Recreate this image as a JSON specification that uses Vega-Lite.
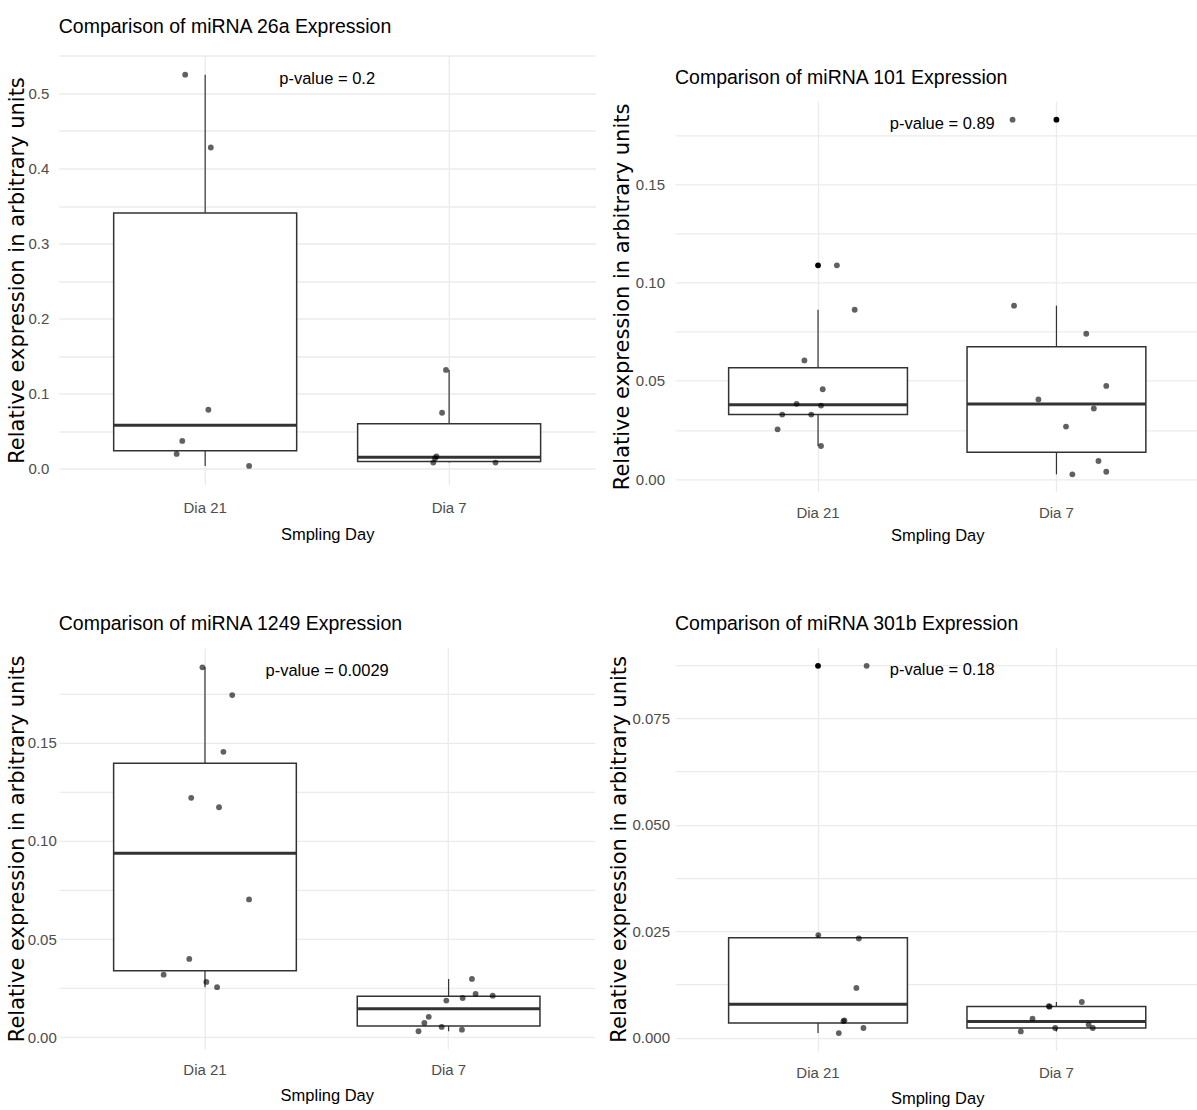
{
  "$schema": "https://vega.github.io/schema/vega-lite/v6.json",
  "padding": {"left": 5.8, "top": 16.5, "right": 0, "bottom": 0},
  "background": "white",
  "datasets": {
    "p1": [
      {"day": "Dia 21", "value": 0.525, "jitter": -0.082},
      {"day": "Dia 21", "value": 0.428, "jitter": 0.023},
      {"day": "Dia 21", "value": 0.0787, "jitter": 0.013},
      {"day": "Dia 21", "value": 0.0372, "jitter": -0.094},
      {"day": "Dia 21", "value": 0.0199, "jitter": -0.117},
      {"day": "Dia 21", "value": 0.004, "jitter": 0.18},
      {"day": "Dia 7", "value": 0.1318, "jitter": -0.013},
      {"day": "Dia 7", "value": 0.0748, "jitter": -0.029},
      {"day": "Dia 7", "value": 0.0166, "jitter": -0.052},
      {"day": "Dia 7", "value": 0.0142, "jitter": -0.058},
      {"day": "Dia 7", "value": 0.0084, "jitter": -0.065},
      {"day": "Dia 7", "value": 0.0084, "jitter": 0.19}
    ],
    "p2": [
      {"day": "Dia 21", "value": 0.1088, "jitter": 0.068},
      {"day": "Dia 21", "value": 0.0862, "jitter": 0.141},
      {"day": "Dia 21", "value": 0.0604, "jitter": -0.065},
      {"day": "Dia 21", "value": 0.0457, "jitter": 0.01},
      {"day": "Dia 21", "value": 0.0383, "jitter": -0.097},
      {"day": "Dia 21", "value": 0.0374, "jitter": 0.003},
      {"day": "Dia 21", "value": 0.0328, "jitter": -0.156},
      {"day": "Dia 21", "value": 0.0328, "jitter": -0.037},
      {"day": "Dia 21", "value": 0.0253, "jitter": -0.175},
      {"day": "Dia 21", "value": 0.0168, "jitter": 0.003},
      {"day": "Dia 7", "value": 0.183, "jitter": -0.189},
      {"day": "Dia 7", "value": 0.0883, "jitter": -0.183},
      {"day": "Dia 7", "value": 0.074, "jitter": 0.113},
      {"day": "Dia 7", "value": 0.0474, "jitter": 0.195},
      {"day": "Dia 7", "value": 0.0405, "jitter": -0.083},
      {"day": "Dia 7", "value": 0.0359, "jitter": 0.144},
      {"day": "Dia 7", "value": 0.0267, "jitter": 0.03},
      {"day": "Dia 7", "value": 0.0092, "jitter": 0.163},
      {"day": "Dia 7", "value": 0.0024, "jitter": 0.056},
      {"day": "Dia 7", "value": 0.0037, "jitter": 0.195}
    ],
    "p3": [
      {"day": "Dia 21", "value": 0.1883, "jitter": -0.011},
      {"day": "Dia 21", "value": 0.1742, "jitter": 0.111},
      {"day": "Dia 21", "value": 0.1453, "jitter": 0.075},
      {"day": "Dia 21", "value": 0.1219, "jitter": -0.057},
      {"day": "Dia 21", "value": 0.1171, "jitter": 0.057},
      {"day": "Dia 21", "value": 0.0702, "jitter": 0.18},
      {"day": "Dia 21", "value": 0.0399, "jitter": -0.065},
      {"day": "Dia 21", "value": 0.0319, "jitter": -0.17},
      {"day": "Dia 21", "value": 0.0282, "jitter": 0.005},
      {"day": "Dia 21", "value": 0.0255, "jitter": 0.049},
      {"day": "Dia 7", "value": 0.0297, "jitter": 0.095},
      {"day": "Dia 7", "value": 0.0221, "jitter": 0.11},
      {"day": "Dia 7", "value": 0.0212, "jitter": 0.18},
      {"day": "Dia 7", "value": 0.02, "jitter": 0.057},
      {"day": "Dia 7", "value": 0.0187, "jitter": -0.01},
      {"day": "Dia 7", "value": 0.0104, "jitter": -0.082},
      {"day": "Dia 7", "value": 0.0073, "jitter": -0.1},
      {"day": "Dia 7", "value": 0.0053, "jitter": -0.029},
      {"day": "Dia 7", "value": 0.0039, "jitter": 0.054},
      {"day": "Dia 7", "value": 0.0031, "jitter": -0.124}
    ],
    "p4": [
      {"day": "Dia 21", "value": 0.0873, "jitter": 0.19},
      {"day": "Dia 21", "value": 0.0241, "jitter": -0.008},
      {"day": "Dia 21", "value": 0.0233, "jitter": 0.158},
      {"day": "Dia 21", "value": 0.0117, "jitter": 0.148},
      {"day": "Dia 21", "value": 0.0041, "jitter": 0.099},
      {"day": "Dia 21", "value": 0.0039, "jitter": 0.095},
      {"day": "Dia 21", "value": 0.0023, "jitter": 0.177},
      {"day": "Dia 21", "value": 0.0011, "jitter": 0.076},
      {"day": "Dia 7", "value": 0.0084, "jitter": 0.095},
      {"day": "Dia 7", "value": 0.0074, "jitter": -0.04},
      {"day": "Dia 7", "value": 0.0073, "jitter": -0.037},
      {"day": "Dia 7", "value": 0.0045, "jitter": -0.107},
      {"day": "Dia 7", "value": 0.0031, "jitter": 0.123},
      {"day": "Dia 7", "value": 0.0023, "jitter": 0.14},
      {"day": "Dia 7", "value": 0.0023, "jitter": -0.014},
      {"day": "Dia 7", "value": 0.0015, "jitter": -0.155}
    ]
  },
  "hconcat": [
    {
      "spacing": 70.4,
      "vconcat": [
        {
          "width": 536.7,
          "height": 429,
          "title": {"text": "Comparison of miRNA 26a Expression", "offset": 11.5},
          "data": {"name": "p1"},
          "encoding": {
            "x": {"field": "day", "type": "nominal", "sort": ["Dia 21", "Dia 7"], "title": "Smpling Day",
                  "scale": {"paddingInner": 0.2, "paddingOuter": 0.2},
                  "axis": {"labelPadding": 16.3, "titlePadding": 10.4}},
            "y": {"field": "value", "type": "quantitative", "title": "Relative expression in arbitrary units",
                  "scale": {"domain": [-0.0208, 0.5505], "nice": false, "zero": false},
                  "axis": {"values": [0, 0.05, 0.1, 0.15, 0.2, 0.25, 0.3, 0.35, 0.4, 0.45, 0.5, 0.55],
                           "labelExpr": "round(datum.value*100) % 10 == 0 ? format(datum.value, '.1f') : ''",
                           "labelPadding": 10, "titleX": -41}}
          },
          "layer": [
            {"mark": {"type": "boxplot", "extent": 1.5, "size": 183,
                      "box": {"fill": "white", "stroke": "#333333", "strokeWidth": 1.5},
                      "median": {"color": "#333333", "thickness": 3, "opacity": 1},
                      "rule": {"color": "#333333", "strokeWidth": 1.2},
                      "outliers": {"color": "black", "filled": true, "opacity": 1, "size": 34, "strokeWidth": 0}}},
            {"mark": {"type": "circle", "size": 34, "color": "black", "opacity": 0.62},
             "encoding": {"xOffset": {"field": "jitter", "type": "quantitative", "scale": {"domain": [-0.4, 0.4], "range": [0, 195.2]}}}},
            {"data": {"values": [{"label": "p-value = 0.2", "value": 0.525}]},
             "mark": {"type": "text", "fontSize": 16.5, "font": "Liberation Sans", "align": "center", "baseline": "middle", "dy": 4, "color": "black"},
             "encoding": {"x": {"datum": "Dia 21", "type": "nominal", "title": "Smpling Day"},
                          "xOffset": {"datum": 0.5, "type": "quantitative", "scale": {"domain": [-0.4, 0.4], "range": [0, 195.2]}},
                          "text": {"field": "label"}}}
          ]
        },
        {
          "width": 536,
          "height": 401,
          "title": {"text": "Comparison of miRNA 1249 Expression", "offset": 13},
          "data": {"name": "p3"},
          "encoding": {
            "x": {"field": "day", "type": "nominal", "sort": ["Dia 21", "Dia 7"], "title": "Smpling Day",
                  "scale": {"paddingInner": 0.2, "paddingOuter": 0.2},
                  "axis": {"labelPadding": 13.75, "titlePadding": 9.85}},
            "y": {"field": "value", "type": "quantitative", "title": "Relative expression in arbitrary units",
                  "scale": {"domain": [-0.0059, 0.1982], "nice": false, "zero": false},
                  "axis": {"values": [0, 0.025, 0.05, 0.075, 0.1, 0.125, 0.15, 0.175],
                           "labelExpr": "round(datum.value*1000) % 50 == 0 ? format(datum.value, '.2f') : ''",
                           "labelPadding": 2.5, "titleX": -41}}
          },
          "layer": [
            {"mark": {"type": "boxplot", "extent": 1.5, "size": 182.7,
                      "box": {"fill": "white", "stroke": "#333333", "strokeWidth": 1.5},
                      "median": {"color": "#333333", "thickness": 3, "opacity": 1},
                      "rule": {"color": "#333333", "strokeWidth": 1.2},
                      "outliers": {"color": "black", "filled": true, "opacity": 1, "size": 34, "strokeWidth": 0}}},
            {"mark": {"type": "circle", "size": 34, "color": "black", "opacity": 0.62},
             "encoding": {"xOffset": {"field": "jitter", "type": "quantitative", "scale": {"domain": [-0.4, 0.4], "range": [0, 194.9]}}}},
            {"data": {"values": [{"label": "p-value = 0.0029", "value": 0.1883}]},
             "mark": {"type": "text", "fontSize": 16.5, "font": "Liberation Sans", "align": "center", "baseline": "middle", "dy": 4, "color": "black"},
             "encoding": {"x": {"datum": "Dia 21", "type": "nominal", "title": "Smpling Day"},
                          "xOffset": {"datum": 0.5, "type": "quantitative", "scale": {"domain": [-0.4, 0.4], "range": [0, 194.9]}},
                          "text": {"field": "label"}}}
          ]
        }
      ]
    },
    {
      "spacing": 68.7,
      "vconcat": [
        {
          "spacing": 10.9,
          "vconcat": [
            {
              "width": 1,
              "height": 1,
              "view": {"fill": "white", "stroke": null},
              "data": {"values": []},
              "mark": "point"
            },
            {
              "width": 524.5,
              "height": 390,
              "title": {"text": "Comparison of miRNA 101 Expression", "offset": 12.6},
              "data": {"name": "p2"},
              "encoding": {
                "x": {"field": "day", "type": "nominal", "sort": ["Dia 21", "Dia 7"], "title": "Smpling Day",
                      "scale": {"paddingInner": 0.2, "paddingOuter": 0.2},
                      "axis": {"labelPadding": 13.85, "titlePadding": 6.85}},
                "y": {"field": "value", "type": "quantitative", "title": "Relative expression in arbitrary units",
                      "scale": {"domain": [-0.0063, 0.1923], "nice": false, "zero": false},
                      "axis": {"values": [0, 0.025, 0.05, 0.075, 0.1, 0.125, 0.15, 0.175],
                               "labelExpr": "round(datum.value*1000) % 50 == 0 ? format(datum.value, '.2f') : ''",
                               "labelPadding": 10.5, "titleX": -52.8}}
              },
              "layer": [
                {"mark": {"type": "boxplot", "extent": 1.5, "size": 178.8,
                          "box": {"fill": "white", "stroke": "#333333", "strokeWidth": 1.5},
                          "median": {"color": "#333333", "thickness": 3, "opacity": 1},
                          "rule": {"color": "#333333", "strokeWidth": 1.2},
                          "outliers": {"color": "black", "filled": true, "opacity": 1, "size": 34, "strokeWidth": 0}}},
                {"mark": {"type": "circle", "size": 34, "color": "black", "opacity": 0.62},
                 "encoding": {"xOffset": {"field": "jitter", "type": "quantitative", "scale": {"domain": [-0.4, 0.4], "range": [0, 190.7]}}}},
                {"data": {"values": [{"label": "p-value = 0.89", "value": 0.183}]},
                 "mark": {"type": "text", "fontSize": 16.5, "font": "Liberation Sans", "align": "center", "baseline": "middle", "dy": 4, "color": "black"},
                 "encoding": {"x": {"datum": "Dia 21", "type": "nominal", "title": "Smpling Day"},
                              "xOffset": {"datum": 0.5, "type": "quantitative", "scale": {"domain": [-0.4, 0.4], "range": [0, 190.7]}},
                              "text": {"field": "label"}}}
              ]
            }
          ]
        },
        {
          "width": 524.4,
          "height": 403.3,
          "title": {"text": "Comparison of miRNA 301b Expression", "offset": 12.6},
          "data": {"name": "p4"},
          "encoding": {
            "x": {"field": "day", "type": "nominal", "sort": ["Dia 21", "Dia 7"], "title": "Smpling Day",
                  "scale": {"paddingInner": 0.2, "paddingOuter": 0.2},
                  "axis": {"labelPadding": 15.25, "titlePadding": 9.35}},
            "y": {"field": "value", "type": "quantitative", "title": "Relative expression in arbitrary units",
                  "scale": {"domain": [-0.00298, 0.09167], "nice": false, "zero": false},
                  "axis": {"values": [0, 0.0125, 0.025, 0.0375, 0.05, 0.0625, 0.075, 0.0875],
                           "labelExpr": "round(datum.value*10000) % 250 == 0 ? format(datum.value, '.3f') : ''",
                           "labelPadding": 5.5, "titleX": -55}}
          },
          "layer": [
            {"mark": {"type": "boxplot", "extent": 1.5, "size": 178.8,
                      "box": {"fill": "white", "stroke": "#333333", "strokeWidth": 1.5},
                      "median": {"color": "#333333", "thickness": 3, "opacity": 1},
                      "rule": {"color": "#333333", "strokeWidth": 1.2},
                      "outliers": {"color": "black", "filled": true, "opacity": 1, "size": 34, "strokeWidth": 0}}},
            {"mark": {"type": "circle", "size": 34, "color": "black", "opacity": 0.62},
             "encoding": {"xOffset": {"field": "jitter", "type": "quantitative", "scale": {"domain": [-0.4, 0.4], "range": [0, 190.7]}}}},
            {"data": {"values": [{"label": "p-value = 0.18", "value": 0.0873}]},
             "mark": {"type": "text", "fontSize": 16.5, "font": "Liberation Sans", "align": "center", "baseline": "middle", "dy": 4, "color": "black"},
             "encoding": {"x": {"datum": "Dia 21", "type": "nominal", "title": "Smpling Day"},
                          "xOffset": {"datum": 0.5, "type": "quantitative", "scale": {"domain": [-0.4, 0.4], "range": [0, 190.7]}},
                          "text": {"field": "label"}}}
          ]
        }
      ]
    }
  ],
  "spacing": 13.2,
  "config": {
    "view": {"stroke": null},
    "axis": {
      "domain": false, "ticks": false, "tickSize": 0, "grid": true,
      "gridColor": "#EBEBEB", "gridWidth": 1.3,
      "labelFont": "Liberation Sans", "labelColor": "#4D4D4D", "labelOverlap": false,
      "titleFont": "Liberation Sans", "titleFontSize": 16.5, "titleFontWeight": "normal", "titleColor": "black"
    },
    "axisX": {"labelFontSize": 15, "labelAngle": 0, "bandPosition": 0.5},
    "axisY": {"labelFontSize": 15, "titleFont": "DejaVu Sans", "titleFontSize": 21, "titleBaseline": "middle", "titleAlign": "center"},
    "title": {"font": "Liberation Sans", "fontSize": 19.5, "fontWeight": "normal", "anchor": "start", "frame": "group", "baseline": "bottom", "color": "black"}
  }
}
